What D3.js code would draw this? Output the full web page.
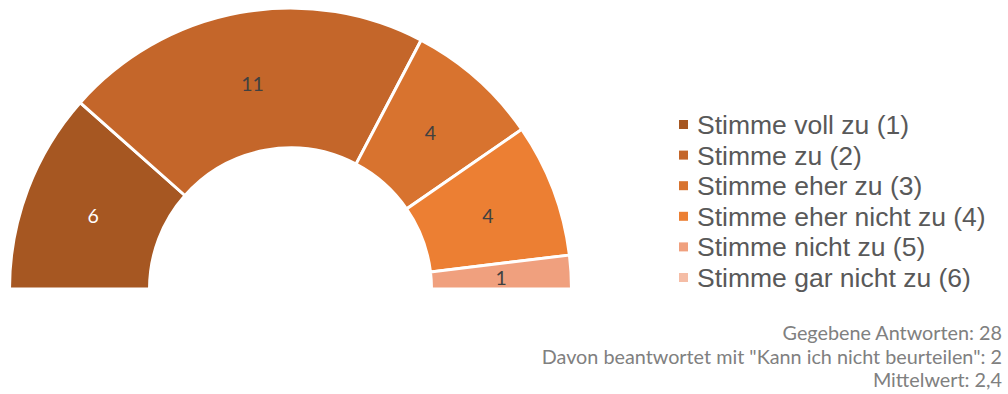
<!DOCTYPE html>
<html>
<head>
<meta charset="utf-8">
<script src="https://cdn.jsdelivr.net/npm/d3@7"></script>
<style>
  html, body { margin: 0; padding: 0; background: #fff; }
  svg { display: block; }
</style>
</head>
<body>
<svg id="chart" width="1008" height="394"></svg>
<script>
// Answer categories and counts
const categories = [
  "Stimme voll zu (1)",
  "Stimme zu (2)",
  "Stimme eher zu (3)",
  "Stimme eher nicht zu (4)",
  "Stimme nicht zu (5)",
  "Stimme gar nicht zu (6)"
];
const counts = [6, 11, 4, 4, 1, 0];
const colors = ["#A65722", "#C4662A", "#D8732F", "#EC7F33", "#F0A07E", "#F5BDA6"];
const labelColors = ["#ffffff", "#404040", "#404040", "#404040", "#404040", "#404040"];
const footerLines = [
  "Gegebene Antworten: 28",
  "Davon beantwortet mit \"Kann ich nicht beurteilen\": 2",
  "Mittelwert: 2,4"
];

const svg = d3.select("#chart");
const cx = 290.5, cy = 289, rOuter = 281, rInner = 141;

const data = categories.map((c, i) => ({ name: c, value: counts[i], color: colors[i], label: labelColors[i] }));

const pie = d3.pie()
  .value(d => d.value)
  .sort(null)
  .startAngle(-Math.PI / 2)
  .endAngle(Math.PI / 2);

const arc = d3.arc().innerRadius(rInner).outerRadius(rOuter);

const g = svg.append("g").attr("transform", `translate(${cx},${cy})`);
const arcs = pie(data).filter(d => d.data.value > 0);

g.selectAll("path.slice")
  .data(arcs)
  .join("path")
  .attr("class", "slice")
  .attr("d", arc)
  .attr("fill", d => d.data.color)
  .attr("stroke", "#fff")
  .attr("stroke-width", 3)
  .attr("stroke-linejoin", "miter");

g.selectAll("text.val")
  .data(arcs)
  .join("text")
  .attr("class", "val")
  .attr("transform", d => `translate(${arc.centroid(d)})`)
  .attr("text-anchor", "middle")
  .attr("dy", "0.47em")
  .attr("font-family", "Lato, 'Open Sans', sans-serif")
  .attr("font-size", 19.5)
  .attr("fill", d => d.data.label)
  .text(d => d.data.value);

// Legend
const legend = svg.append("g").attr("transform", "translate(679,124.5)");
const rowH = 30.6;
const items = legend.selectAll("g.item")
  .data(data)
  .join("g")
  .attr("class", "item")
  .attr("transform", (d, i) => `translate(0,${i * rowH})`);
items.append("rect")
  .attr("x", 0).attr("y", -4.5)
  .attr("width", 9).attr("height", 9)
  .attr("fill", d => d.color);
items.append("text")
  .attr("x", 18)
  .attr("dy", "0.36em")
  .attr("font-family", "'Liberation Sans', Arial, sans-serif")
  .attr("font-size", 26.5)
  .attr("fill", "#595959")
  .text(d => d.name);

// Summary lines
svg.append("g")
  .selectAll("text")
  .data(footerLines)
  .join("text")
  .attr("x", 1002)
  .attr("y", (d, i) => 340 + i * 23.5)
  .attr("text-anchor", "end")
  .attr("font-family", "Lato, 'Open Sans', sans-serif")
  .attr("font-size", 19.8)
  .attr("fill", "#808080")
  .text(d => d);
</script>
</body>
</html>
